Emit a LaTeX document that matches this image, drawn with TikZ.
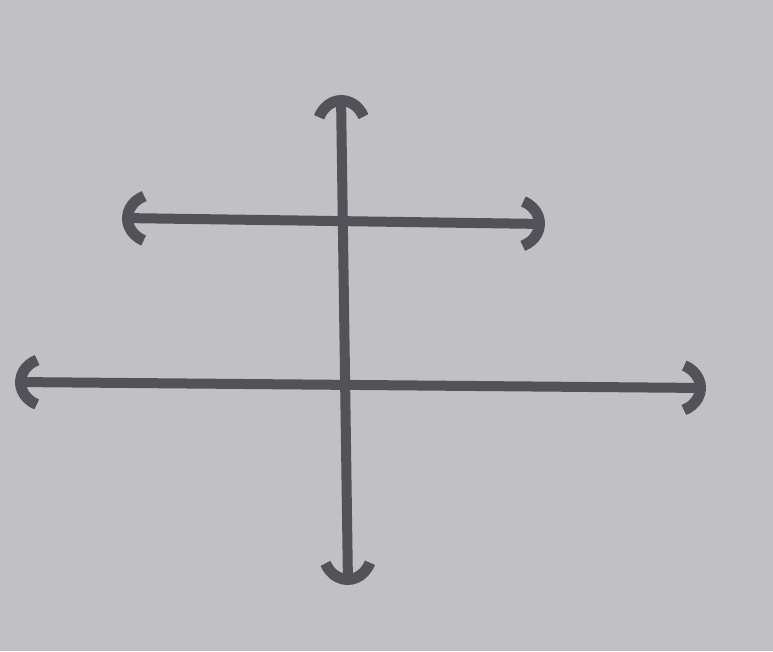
\documentclass[tikz,border=0pt]{standalone}
\usetikzlibrary{arrows.meta}
\definecolor{bg}{RGB}{192,192,197}
\definecolor{ink}{RGB}{82,82,88}
\begin{document}
\begin{tikzpicture}[x=1pt,y=-1pt,
  dbl/.style={draw=ink,line width=10pt,{Arc Barb[arc=130,length=34pt,width=60pt,line width=11pt]}-{Arc Barb[arc=130,length=34pt,width=60pt,line width=11pt]}}]
\fill[bg] (0,0) rectangle (773,651);
\useasboundingbox (0,0) rectangle (773,651);
\coordinate (vt) at (341,95);
\coordinate (vb) at (348,585);
\coordinate (ul) at (122,218);
\coordinate (ur) at (545,224);
\coordinate (ll) at (15,382);
\coordinate (lr) at (706,388);
\draw[dbl] (vb) -- (vt);
\draw[dbl] (ul) -- (ur);
\draw[dbl] (ll) -- (lr);
\end{tikzpicture}
\end{document}
